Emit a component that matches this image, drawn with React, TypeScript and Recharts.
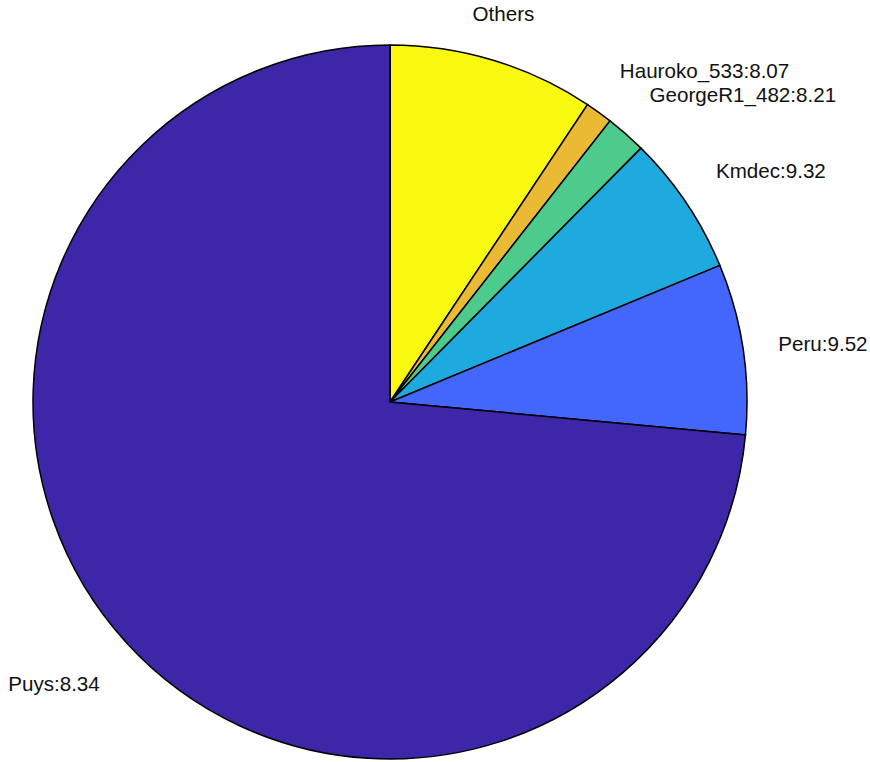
import { Cell, Pie, PieChart } from 'recharts'

const names = ['Others', 'Hauroko_533', 'GeorgeR1_482', 'Kmdec', 'Peru', 'Puys']
const labels = ['Others', 'Hauroko_533:8.07', 'GeorgeR1_482:8.21', 'Kmdec:9.32', 'Peru:9.52', 'Puys:8.34']
const shares = [9.33, 1.24, 1.84, 6.34, 7.72, 73.53]
const colors = ['#f9f90f', '#ebba34', '#4ccb8c', '#1eaadf', '#4366fc', '#3d26a8']

const data = names.map((name, i) => ({ name, value: shares[i], label: labels[i] }))

const FONT = 20.6
const RADIAN = Math.PI / 180

interface LabelProps {
  cx: number
  cy: number
  midAngle: number
  outerRadius: number
  index: number
}

function SliceLabel({ cx, cy, midAngle, outerRadius, index }: LabelProps) {
  const r = outerRadius * 1.1
  const cos = Math.cos(-midAngle * RADIAN)
  const sin = -Math.sin(-midAngle * RADIAN)
  const x = cx + r * cos
  const y = cy - r * sin

  let anchor: 'start' | 'middle' | 'end' = 'middle'
  if (Math.abs(cos) >= 0.35) anchor = cos > 0 ? 'start' : 'end'

  let baseline = y + 0.36 * FONT
  if (sin > 0.3) baseline = y - 0.25 * FONT
  else if (sin < -0.3) baseline = y + 1.2 * FONT

  return (
    <text x={x} y={baseline} textAnchor={anchor} fill="#111" fontSize={FONT}>
      {labels[index]}
    </text>
  )
}

export default function App() {
  return (
    <div style={{ position: 'absolute', left: 0, top: 0, background: '#fff' }}>
      <PieChart
        width={870}
        height={762}
        margin={{ top: 0, right: 0, bottom: 0, left: 0 }}
        style={{ fontFamily: '"Liberation Sans", Arial, Helvetica, sans-serif' }}
      >
        <Pie
          data={data}
          dataKey="value"
          nameKey="name"
          cx={390}
          cy={402}
          outerRadius={357}
          startAngle={90}
          endAngle={-270}
          stroke="#000"
          strokeWidth={1.5}
          labelLine={false}
          label={SliceLabel}
          isAnimationActive={false}
        >
          {data.map((d, i) => (
            <Cell key={d.name} fill={colors[i]} />
          ))}
        </Pie>
      </PieChart>
    </div>
  )
}
